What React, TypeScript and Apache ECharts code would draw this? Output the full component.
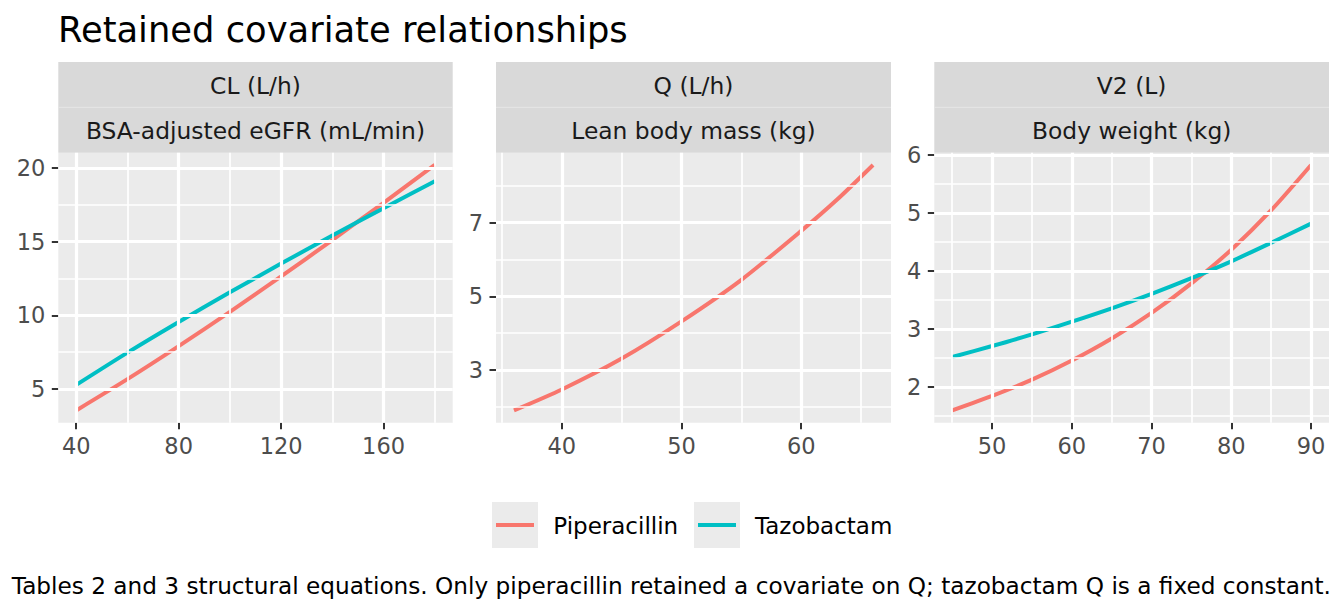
import React, { useEffect, useRef } from "react";
import * as echarts from "echarts";

// ---------- data ----------
const eGFR = [40, 60, 80, 100, 120, 140, 160, 180];
const clPip = [3.55, 5.67, 7.91, 10.24, 12.64, 15.11, 17.63, 20.2];
const clTaz = [5.28, 7.47, 9.55, 11.56, 13.51, 15.41, 17.27, 19.1];

const leanMass = [36, 40, 45, 50, 55, 60, 63, 66];
const qPip = [1.9, 2.47, 3.31, 4.32, 5.45, 6.78, 7.63, 8.57];

const bodyWeight = [45, 50, 55, 60, 65, 70, 75, 80, 85, 90];
const v2Pip = [1.6, 1.85, 2.13, 2.46, 2.84, 3.28, 3.79, 4.37, 5.05, 5.83];
const v2Taz = [2.52, 2.71, 2.91, 3.13, 3.36, 3.61, 3.88, 4.17, 4.49, 4.82];

const xTicks1 = [40, 80, 120, 160];
const xMinor1 = [60, 100, 140, 180];
const yTicks1 = [5, 10, 15, 20];
const yMinor1 = [7.5, 12.5, 17.5];

const xTicks2 = [40, 50, 60];
const xMinor2 = [35, 45, 55, 65];
const yTicks2 = [3, 5, 7];
const yMinor2 = [2, 4, 6, 8];

const xTicks3 = [50, 60, 70, 80, 90];
const xMinor3 = [45, 55, 65, 75, 85];
const yTicks3 = [2, 3, 4, 5, 6];
const yMinor3 = [1.5, 2.5, 3.5, 4.5, 5.5];

const stripTop = ["CL (L/h)", "Q (L/h)", "V2 (L)"];
const stripBottom = ["BSA-adjusted eGFR (mL/min)", "Lean body mass (kg)", "Body weight (kg)"];
const drugNames = ["Piperacillin", "Tazobactam"];
const titleText = "Retained covariate relationships";
const captionText =
  "Tables 2 and 3 structural equations. Only piperacillin retained a covariate on Q; tazobactam Q is a fixed constant.";

// ---------- styling / layout ----------
const FONT = "DejaVu Sans";
const COLORS = ["#F8766D", "#00BFC4"];
const PANEL_TOP = 152.7;
const PANEL_H = 270;
const STRIP_TOP = 62;
const panelsLayout = [
  { left: 58.3, width: 394.4 },
  { left: 496, width: 395 },
  { left: 934.3, width: 394.7 },
];

function expand(vals: number[]) {
  const mn = Math.min(...vals);
  const mx = Math.max(...vals);
  const r = mx - mn;
  return { min: mn - 0.05 * r, max: mx + 0.05 * r };
}

type Panel = {
  x: number[];
  ys: (number[] | null)[];
  xTicks: number[];
  xMinor: number[];
  yTicks: number[];
  yMinor: number[];
};

const panels: Panel[] = [
  { x: eGFR, ys: [clPip, clTaz], xTicks: xTicks1, xMinor: xMinor1, yTicks: yTicks1, yMinor: yMinor1 },
  { x: leanMass, ys: [qPip, null], xTicks: xTicks2, xMinor: xMinor2, yTicks: yTicks2, yMinor: yMinor2 },
  { x: bodyWeight, ys: [v2Pip, v2Taz], xTicks: xTicks3, xMinor: xMinor3, yTicks: yTicks3, yMinor: yMinor3 },
];

function buildOption() {
  const grid: any[] = [];
  const xAxis: any[] = [];
  const yAxis: any[] = [];
  const series: any[] = [];
  const graphic: any[] = [];

  const labelStyle = { fontFamily: FONT, fontSize: 22.5, color: "#4D4D4D" };
  const tickStyle = { color: "#333333", width: 2 };

  panels.forEach((p, i) => {
    const L = panelsLayout[i];
    grid.push({
      left: L.left,
      top: PANEL_TOP,
      width: L.width,
      height: PANEL_H,
      show: true,
      backgroundColor: "#EBEBEB",
      borderWidth: 0,
      containLabel: false,
    });
    const xr = expand(p.x);
    const allY = p.ys.filter((y) => y).flat() as number[];
    const yr = expand(allY);
    xAxis.push({
      type: "value",
      gridIndex: i,
      min: xr.min,
      max: xr.max,
      splitLine: { show: false },
      axisLine: { show: false, onZero: false },
      axisTick: { show: true, length: 6.5, lineStyle: tickStyle, customValues: p.xTicks },
      axisLabel: { ...labelStyle, margin: 12, customValues: p.xTicks },
    });
    yAxis.push({
      type: "value",
      gridIndex: i,
      min: yr.min,
      max: yr.max,
      splitLine: { show: false },
      axisLine: { show: false, onZero: false },
      axisTick: { show: true, length: 6.5, lineStyle: tickStyle, customValues: p.yTicks },
      axisLabel: { ...labelStyle, margin: 13, customValues: p.yTicks },
    });

    // grid lines via markLine on an invisible carrier series
    const mk: any[] = [];
    p.xMinor.forEach((v) => mk.push({ xAxis: v, lineStyle: { width: 1.7 } }));
    p.yMinor.forEach((v) => mk.push({ yAxis: v, lineStyle: { width: 1.7 } }));
    p.xTicks.forEach((v) => mk.push({ xAxis: v, lineStyle: { width: 3.2 } }));
    p.yTicks.forEach((v) => mk.push({ yAxis: v, lineStyle: { width: 3.2 } }));
    const carrier = p.ys[0] as number[];
    series.push({
      type: "line",
      xAxisIndex: i,
      yAxisIndex: i,
      data: p.x.map((x, k) => [x, carrier[k]]),
      showSymbol: false,
      silent: true,
      z: 1,
      lineStyle: { opacity: 0, width: 0 },
      markLine: {
        silent: true,
        symbol: ["none", "none"],
        label: { show: false },
        animation: false,
        lineStyle: { type: "solid", color: "#FFFFFF" },
        emphasis: { disabled: true },
        data: mk,
      },
    });

    p.ys.forEach((ys, d) => {
      if (!ys) return;
      series.push({
        type: "line",
        name: drugNames[d],
        xAxisIndex: i,
        yAxisIndex: i,
        data: p.x.map((x, k) => [x, ys[k]]),
        showSymbol: false,
        smooth: 0.25,
        z: 3,
        silent: true,
        lineStyle: { color: COLORS[d], width: 4 },
        itemStyle: { color: COLORS[d] },
      });
    });

    // strips
    graphic.push({
      type: "rect",
      shape: { x: L.left, y: STRIP_TOP, width: L.width, height: PANEL_TOP - STRIP_TOP },
      style: { fill: "#D9D9D9" },
    });
    graphic.push({
      type: "line",
      shape: { x1: L.left, y1: 107.3, x2: L.left + L.width, y2: 107.3 },
      style: { stroke: "#E6E6E6", lineWidth: 1 },
    });
    graphic.push({
      type: "text",
      x: L.left + L.width / 2,
      y: 86,
      style: {
        text: stripTop[i],
        fontFamily: FONT,
        fontSize: 23.4,
        fill: "#1A1A1A",
        align: "center",
        verticalAlign: "middle",
      },
    });
    graphic.push({
      type: "text",
      x: L.left + L.width / 2,
      y: 131,
      style: {
        text: stripBottom[i],
        fontFamily: FONT,
        fontSize: 23.4,
        fill: "#1A1A1A",
        align: "center",
        verticalAlign: "middle",
      },
    });
  });

  // title
  graphic.push({
    type: "text",
    x: 58,
    y: 29.6,
    style: {
      text: titleText,
      fontFamily: FONT,
      fontSize: 35.3,
      fill: "#000000",
      align: "left",
      verticalAlign: "middle",
    },
  });

  // legend
  const keyX = [492, 694];
  const textX = [553.3, 755];
  drugNames.forEach((name, d) => {
    graphic.push({
      type: "rect",
      shape: { x: keyX[d], y: 502, width: 46, height: 46 },
      style: { fill: "#EBEBEB" },
    });
    graphic.push({
      type: "line",
      shape: { x1: keyX[d] + 4, y1: 525, x2: keyX[d] + 42, y2: 525 },
      style: { stroke: COLORS[d], lineWidth: 4 },
    });
    graphic.push({
      type: "text",
      x: textX[d],
      y: 526,
      style: {
        text: name,
        fontFamily: FONT,
        fontSize: 23,
        fill: "#000000",
        align: "left",
        verticalAlign: "middle",
      },
    });
  });

  // caption
  graphic.push({
    type: "text",
    x: 1331,
    y: 585,
    style: {
      text: captionText,
      fontFamily: FONT,
      fontSize: 23.2,
      fill: "#000000",
      align: "right",
      verticalAlign: "middle",
    },
  });

  return {
    animation: false,
    backgroundColor: "#FFFFFF",
    textStyle: { fontFamily: FONT },
    grid,
    xAxis,
    yAxis,
    series,
    graphic,
  };
}

export default function App() {
  const ref = useRef<HTMLDivElement>(null);
  useEffect(() => {
    if (!ref.current) return;
    const chart = echarts.init(ref.current, undefined, { renderer: "svg" });
    chart.setOption(buildOption() as any);
    return () => chart.dispose();
  }, []);
  return (
    <div
      ref={ref}
      style={{ position: "fixed", left: 0, top: 0, width: 1344, height: 614, background: "#fff" }}
    />
  );
}
